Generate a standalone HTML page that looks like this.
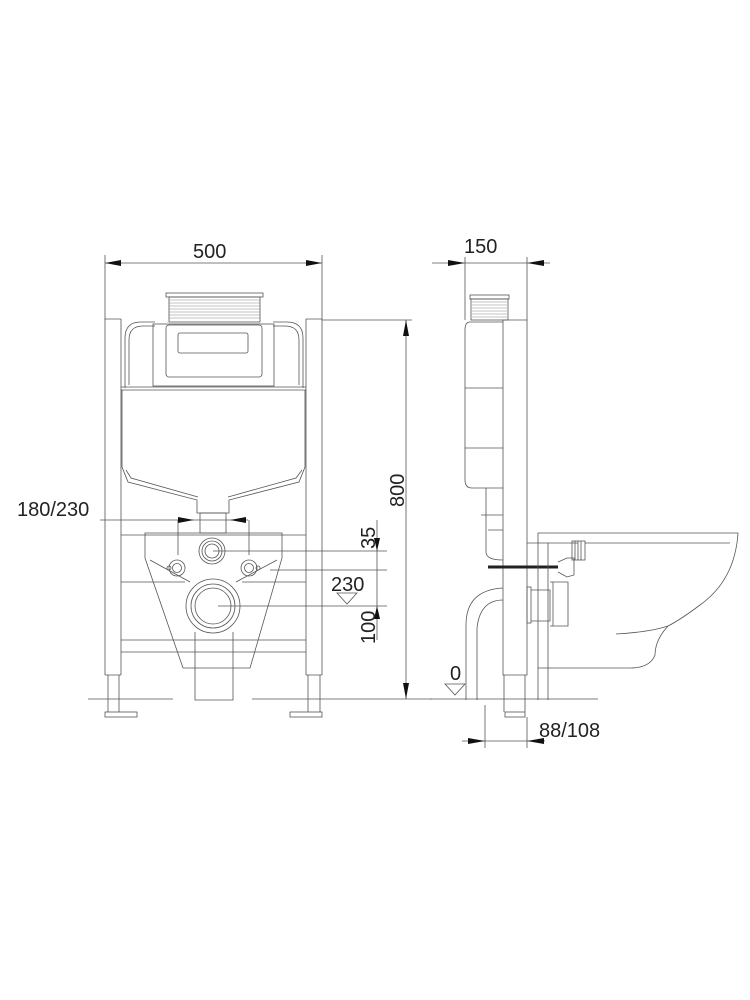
<!DOCTYPE html>
<html><head><meta charset="utf-8"><style>
html,body{margin:0;padding:0;background:#fff;}
svg{display:block}
text{font-family:"Liberation Sans",sans-serif;fill:#222;}
</style></head><body>
<svg width="750" height="1000" viewBox="0 0 750 1000" xmlns="http://www.w3.org/2000/svg">
<g fill="none" stroke="#555" stroke-width="0.8">
<!-- FRONT VIEW -->
<line x1="105" y1="255" x2="105" y2="320"/><line x1="322" y1="255" x2="322" y2="320"/>
<line x1="105" y1="263" x2="322" y2="263"/>
<path d="M105,319 H121 M306,319 H322"/>
<path d="M105,319 V675 M121,319 V675 M306,319 V675 M322,319 V675"/>
<path d="M105,675 H121 M306,675 H322"/>
<path d="M108,675 V712 M119,675 V712 M308,675 V712 M320,675 V712"/>
<rect x="105" y="712" width="32" height="5"/><rect x="290" y="712" width="32" height="5"/>
<rect x="166" y="293" width="97" height="4"/>
<g stroke="#888" stroke-width="0.6">
<path d="M169,300H260 M169,303H260 M169,306H260 M169,309H260 M169,312H260 M169,315H260 M169,318H260"/>
</g>
<rect x="169" y="297" width="91" height="25"/>
<path d="M125,388 V338 Q125,322 141,322 H155 M273,322 H287 Q303,322 303,338 V388"/>
<path d="M129,385 V340 Q129,326 143,326 H155 M273,326 H285 Q299,326 299,340 V385"/>
<rect x="153" y="324" width="121" height="62"/>
<rect x="166" y="325" width="96" height="52" rx="3"/>
<rect x="178" y="333" width="70" height="20" rx="2"/>
<path d="M121,390 H306 M121,387 H306"/>
<path d="M122,390 V467 L128,482 L197,500 V513 H229 V500 L299,482 L305,467 V390"/>
<path d="M126,470 L131,478 L198,497 M228,497 L296,478 L302,470"/>
<rect x="200" y="513" width="26" height="20"/>
<path d="M121,535 H306"/>
<path d="M145,533 H282 V558 L250,668 H183 L145,558 Z"/>
<path d="M150,560 L190,582 M277,560 L236,582"/>
<circle cx="212" cy="551" r="13"/><circle cx="212" cy="551" r="10"/><circle cx="212" cy="551" r="7"/>
<circle cx="177" cy="568" r="8"/><circle cx="177" cy="568" r="4.5"/><circle cx="169" cy="568" r="2"/>
<circle cx="249" cy="568" r="8"/><circle cx="249" cy="568" r="4.5"/><circle cx="258" cy="568" r="2"/>
<path d="M121,582 H185 M242,582 H306 M121,640 H306 M121,652 H306"/>
<circle cx="213" cy="606" r="27"/><circle cx="213" cy="606" r="22"/><circle cx="213" cy="606" r="18"/>
<path d="M195,632 V700 H233 V632"/>
<path d="M88,699 H173 M252,699 H432"/>
<line x1="322" y1="320" x2="412" y2="320"/>
<line x1="406" y1="320" x2="406" y2="699"/>
<line x1="100" y1="520" x2="248" y2="520"/>
<line x1="178" y1="520" x2="178" y2="555"/><line x1="249" y1="520" x2="249" y2="555"/>
<line x1="377" y1="520" x2="377" y2="640"/>
<line x1="213" y1="551" x2="387" y2="551"/>
<line x1="270" y1="570" x2="387" y2="570"/>
<line x1="218" y1="606" x2="387" y2="606"/>
<path d="M337,593 H357 L347,604 Z"/>

<!-- SIDE VIEW -->
<line x1="465" y1="257" x2="465" y2="320"/><line x1="527" y1="257" x2="527" y2="320"/>
<line x1="432" y1="263" x2="550" y2="263"/>
<rect x="470" y="295" width="39" height="4"/>
<g stroke="#888" stroke-width="0.6"><path d="M472,302H507 M472,305H507 M472,308H507 M472,311H507 M472,314H507 M472,317H507"/></g>
<rect x="471" y="299" width="37" height="21"/>
<path d="M503,320 H527 V675 H503 Z"/>
<path d="M504,675 V712 M525,675 V712"/><rect x="505" y="712" width="20" height="5"/>
<path d="M503,322 H470 Q465,322 465,330 V480 Q465,488 472,488 H503"/>
<path d="M465,388 H503 M465,448 H503"/>
<path d="M486,488 V530 M481,515 H503 M486,530 V552 Q486,560 503,560 M488,530 H503"/>
<line x1="488" y1="567" x2="558" y2="567" stroke="#222" stroke-width="3"/>
<path d="M558,562 L567,558 H574 V575 L567,577 L558,572"/>
<rect x="572" y="541" width="13" height="19"/>
<path d="M575,541 V560 M578,541 V560 M581,541 V560"/>
<rect x="527" y="587" width="4" height="36"/>
<path d="M531,590 H550 V621 H531 M550,582 H568 V626 H550"/>
<path d="M553,582 V626"/>
<path d="M466,700 V625 Q466,590 503,588 M477,700 V628 Q480,600 503,600"/>
<path d="M538,700 V533 H738 Q735,580 700,605 Q680,620 668,626 Q655,640 655,655 Q650,668 630,668 H538"/>
<path d="M527,543 H578 M548,543 V700 M585,543 H730"/>
<path d="M616,634 Q650,632 668,626"/>
<path d="M430,699 H598"/>
<path d="M445,684 H465 L455,695 Z"/>
<line x1="485" y1="705" x2="485" y2="748"/><line x1="527" y1="717" x2="527" y2="748"/>
<line x1="462" y1="741" x2="545" y2="741"/>
</g>
<g fill="#111">
<path d="M105,263 l16,-3 v6z"/><path d="M322,263 l-16,-3 v6z"/>
<path d="M406,320 l-3,16 h6z"/><path d="M406,699 l-3,-16 h6z"/>
<path d="M194,520 l-16,-3 v6z"/><path d="M230,520 l16,-3 v6z"/>
<path d="M377,551 l-3,-13 h6z"/><path d="M377,606 l-3,13 h6z"/>
<path d="M465,263 l-17,-3 v6z"/><path d="M527,263 l17,-3 v6z"/>
<path d="M485,741 l-17,-3 v6z"/><path d="M527,741 l17,-3 v6z"/>
</g>
<text x="193" y="258" font-size="20">500</text>
<text x="464" y="253" font-size="20">150</text>
<text x="17" y="516" font-size="20">180/230</text>
<text font-size="20" transform="translate(404,507) rotate(-90)">800</text>
<text font-size="20" transform="translate(375,549) rotate(-90)">35</text>
<text x="331" y="591" font-size="20">230</text>
<text font-size="20" transform="translate(375,644) rotate(-90)">100</text>
<text x="450" y="680" font-size="20">0</text>
<text x="539" y="737" font-size="20">88/108</text>
</svg>
</body></html>
